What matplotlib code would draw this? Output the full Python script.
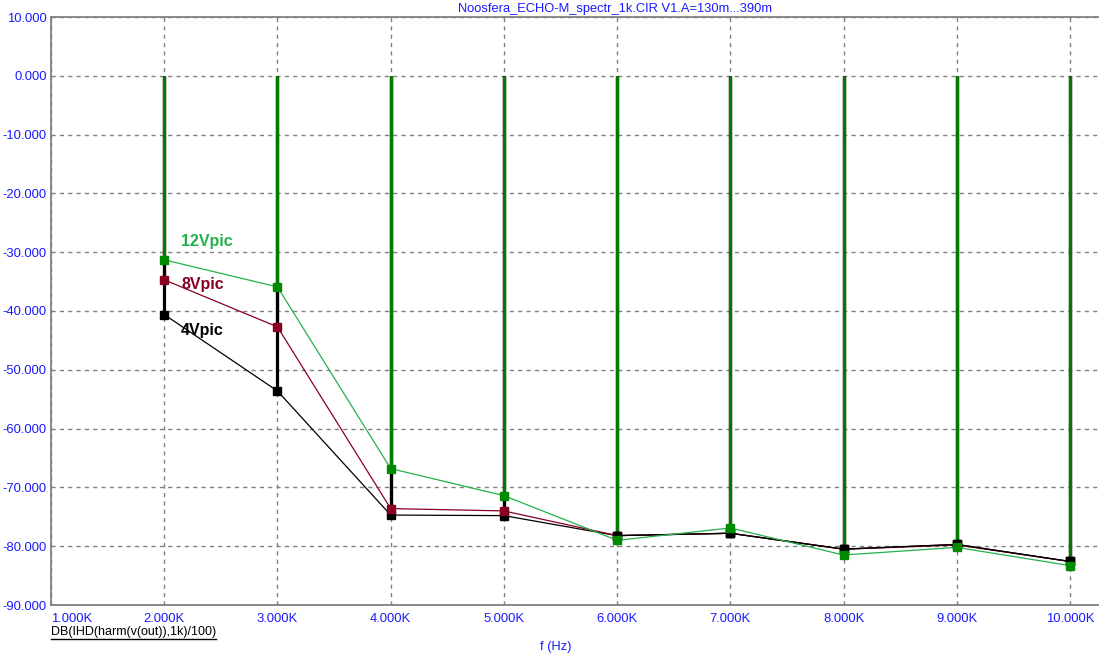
import numpy as np
import matplotlib.pyplot as plt

plt.rcParams['font.family'] = ['Liberation Sans', 'DejaVu Sans']

# ============================================
# DATA
# ============================================
freq = [2000, 3000, 4000, 5000, 6000, 7000, 8000, 9000, 10000]
v12 = [-31.3, -35.9, -66.8, -71.4, -79.0, -76.9, -81.5, -80.2, -83.3]
v8 = [-34.7, -42.7, -73.6, -74.0, -78.2, -77.8, -80.5, -79.8, -82.6]
v4 = [-40.6, -53.6, -74.7, -74.8, -78.2, -77.8, -80.5, -79.7, -82.6]

xticks = [1000, 2000, 3000, 4000, 5000, 6000, 7000, 8000, 9000, 10000]
xlabels = ["1.000K", "2.000K", "3.000K", "4.000K", "5.000K",
           "6.000K", "7.000K", "8.000K", "9.000K", "10.000K"]
yticks = [10, 0, -10, -20, -30, -40, -50, -60, -70, -80, -90]

blue = "#1a1aff"
c12 = "#22b14c"
c8 = "#880022"
c4 = "#000000"

# ============================================
# PLOT
# ============================================
fig = plt.figure(figsize=(10.99, 6.59), dpi=100)
ax = fig.add_axes([51/1099, 1-605/659, 1-51/1099, (605-17)/659])

# stems from 0 dB down to each point
ax.vlines(freq, 0, v8, color=c8, linewidth=2.3, zorder=2)
ax.vlines(freq, 0, v4, color=c4, linewidth=2.3, zorder=2)
ax.vlines(freq, 0, v12, color="#007a00", linewidth=2.3, zorder=2)

ax.plot(freq, v4, color=c4, linewidth=0.9, marker='s', markersize=5.5, zorder=3)
ax.plot(freq, v8, color=c8, linewidth=0.9, marker='s', markersize=5.5, zorder=4)
ax.plot(freq, v12, color=c12, linewidth=0.9, marker='s', markersize=5.5,
        markerfacecolor="#008a00", markeredgecolor="#008a00", zorder=5)
ax.plot(freq[4:], v4[4:], color=c4, linewidth=0.9, marker='s', markersize=5.5, zorder=4.5)

ax.text(2150, -28.1, "12Vpic", color=c12, fontsize=11.5, fontweight='bold', va='center')
ax.text(2155, -35.5, "8Vpic", color=c8, fontsize=11.5, fontweight='bold', va='center')
ax.text(2150, -43.3, "4Vpic", color=c4, fontsize=11.5, fontweight='bold', va='center')

ax.set_xlim(1000, 10256)
ax.set_ylim(-90, 10)

ax.set_xticks(xticks)
ax.set_xticklabels(xlabels)
ax.set_yticks(yticks)
ax.set_yticklabels(["%.3f" % v for v in yticks])
ax.tick_params(axis='both', length=0, labelsize=9.4, labelcolor=blue)
ax.tick_params(axis='x', pad=6)
ax.tick_params(axis='y', pad=3)
ax.get_xticklabels()[0].set_horizontalalignment('left')

ax.grid(True, color='#808080', linestyle=(0, (3, 3)), linewidth=1)
for s in ['left', 'bottom', 'top']:
    ax.spines[s].set_color('#808080')
    ax.spines[s].set_linewidth(1.3)
ax.spines['right'].set_visible(False)

fig.text(615/1099, 1-9/659, "Noosfera_ECHO-M_spectr_1k.CIR V1.A=130m...390m",
         color=blue, fontsize=9.3, ha='center', va='center')
fig.text(556/1099, 1-647/659, "f (Hz)", color=blue, fontsize=9.3, ha='center', va='center')
t = fig.text(51/1099, 1-632/659, "DB(IHD(harm(v(out)),1k)/100)", color='black',
             fontsize=9, ha='left', va='center')
fig.add_artist(plt.Line2D([51/1099, 216/1099], [1-639/659, 1-639/659], color='black', linewidth=1))

fig.savefig("out.png", dpi=100)
